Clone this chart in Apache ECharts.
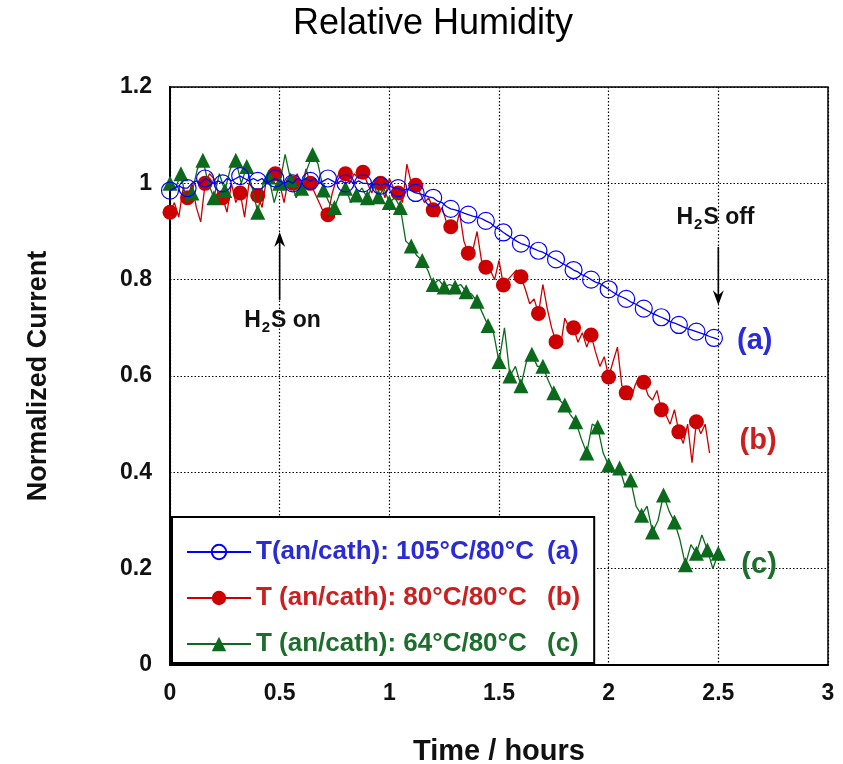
<!DOCTYPE html>
<html><head><meta charset="utf-8">
<script src="https://cdn.jsdelivr.net/npm/echarts@6/dist/echarts.min.js"></script>
<style>html,body{margin:0;padding:0;background:#fff}#c{width:843px;height:764px}</style>
</head><body><div id="c"></div>
<script>
// ---------------- DATA ----------------
const timesAB = [
 0,0.02,0.04,0.06,0.08,0.1,0.12,0.14,0.16,0.18,
 0.2,0.22,0.24,0.26,0.28,0.3,0.32,0.34,0.36,0.38,
 0.4,0.42,0.44,0.46,0.48,0.5,0.52,0.54,0.56,0.58,
 0.6,0.62,0.64,0.66,0.68,0.7,0.72,0.74,0.76,0.78,
 0.8,0.82,0.84,0.86,0.88,0.9,0.92,0.94,0.96,0.98,
 1.0,1.02,1.04,1.06,1.08,1.1,1.12,1.14,1.16,1.18,
 1.2,1.22,1.24,1.26,1.28,1.3,1.32,1.34,1.36,1.38,
 1.4,1.42,1.44,1.46,1.48,1.5,1.52,1.54,1.56,1.58,
 1.6,1.62,1.64,1.66,1.68,1.7,1.72,1.74,1.76,1.78,
 1.8,1.82,1.84,1.86,1.88,1.9,1.92,1.94,1.96,1.98,
 2.0,2.02,2.04,2.06,2.08,2.1,2.12,2.14,2.16,2.18,
 2.2,2.22,2.24,2.26,2.28,2.3,2.32,2.34,2.36,2.38,
 2.4,2.42,2.44,2.46,2.48,2.5
];
// (a) 105/80
const valuesA = [
 0.985,0.99,0.995,0.99,0.99,1.0,1.005,1.0,1.01,1.005,
 1.0,1.005,1.0,1.01,1.005,1.01,1.015,1.01,1.005,1.01,
 1.005,1.01,1.0,1.005,1.01,1.005,1.0,1.005,1.0,1.01,
 1.005,1.01,1.005,1.01,1.0,1.005,1.01,1.005,1.0,1.005,
 1.0,1.005,1.0,1.005,1.0,1.0,0.995,1.0,0.995,1.0,
 0.995,0.99,0.99,0.985,0.988,0.985,0.98,0.978,0.975,0.972,
 0.97,0.963,0.96,0.952,0.947,0.945,0.942,0.938,0.935,0.932,
 0.93,0.927,0.922,0.918,0.91,0.905,0.898,0.892,0.886,0.88,
 0.875,0.872,0.868,0.864,0.86,0.857,0.852,0.846,0.842,0.836,
 0.831,0.826,0.82,0.816,0.81,0.806,0.80,0.795,0.792,0.786,
 0.78,0.774,0.768,0.764,0.76,0.754,0.75,0.745,0.74,0.735,
 0.73,0.726,0.722,0.718,0.713,0.71,0.706,0.702,0.698,0.695,
 0.692,0.689,0.686,0.682,0.679,0.676
];
// (b) 80/80
const valuesB = [
 0.94,0.96,0.93,0.99,0.97,1.0,0.95,0.92,1.0,1.02,
 1.01,0.98,0.97,0.94,1.0,0.96,0.98,0.93,1.0,0.99,
 0.975,0.95,1.01,1.03,1.02,1.0,0.96,1.01,1.0,1.02,
 0.99,1.03,1.0,0.98,0.96,0.94,0.935,0.98,1.01,1.03,
 1.02,1.0,1.02,1.01,1.023,1.0,0.98,1.01,1.0,0.97,
 1.01,0.99,0.98,0.96,1.04,1.0,0.996,0.98,0.96,0.97,
 0.945,0.93,0.95,0.92,0.91,0.90,0.94,0.88,0.855,0.86,
 0.90,0.84,0.826,0.82,0.80,0.84,0.789,0.80,0.81,0.82,
 0.806,0.78,0.75,0.76,0.73,0.79,0.74,0.70,0.671,0.66,
 0.72,0.70,0.70,0.67,0.69,0.66,0.685,0.65,0.62,0.64,
 0.598,0.63,0.66,0.58,0.565,0.55,0.58,0.60,0.587,0.56,
 0.55,0.57,0.53,0.52,0.50,0.53,0.484,0.46,0.50,0.42,
 0.505,0.48,0.50,0.44
];
const timesC = [
 0,0.025,0.05,0.075,0.1,0.125,0.15,0.175,0.2,0.225,
 0.25,0.275,0.3,0.325,0.35,0.375,0.4,0.425,0.45,0.475,
 0.5,0.525,0.55,0.575,0.6,0.625,0.65,0.675,0.7,0.725,
 0.75,0.775,0.8,0.825,0.85,0.875,0.9,0.925,0.95,0.975,
 1.0,1.025,1.05,1.075,1.1,1.125,1.15,1.175,1.2,1.225,
 1.25,1.275,1.3,1.325,1.35,1.375,1.4,1.425,1.45,1.475,
 1.5,1.525,1.55,1.575,1.6,1.625,1.65,1.675,1.7,1.725,
 1.75,1.775,1.8,1.825,1.85,1.875,1.9,1.925,1.95,1.975,
 2.0,2.025,2.05,2.075,2.1,2.125,2.15,2.175,2.2,2.225,
 2.25,2.275,2.3,2.325,2.35,2.375,2.4,2.425,2.45,2.475,
 2.5,2.525
];
// (c) 64/80
const valuesC = [
 1.0,0.99,1.02,0.96,0.98,1.03,1.048,1.0,0.97,1.02,
 0.985,1.03,1.048,1.0,1.035,0.99,0.94,1.0,1.013,0.96,
 1.0,1.06,1.007,0.97,0.99,1.03,1.06,1.04,0.986,0.96,
 0.95,0.98,0.99,0.96,0.976,0.99,0.97,1.0,0.972,0.99,
 0.96,0.97,0.95,0.88,0.87,0.85,0.84,0.82,0.79,0.80,
 0.785,0.79,0.785,0.79,0.775,0.77,0.755,0.73,0.705,0.69,
 0.63,0.70,0.60,0.62,0.58,0.63,0.645,0.62,0.62,0.59,
 0.565,0.55,0.54,0.52,0.505,0.47,0.44,0.50,0.494,0.44,
 0.415,0.40,0.409,0.37,0.384,0.33,0.311,0.33,0.276,0.30,
 0.353,0.32,0.297,0.26,0.208,0.25,0.232,0.27,0.239,0.20,
 0.232,0.22
];
const seriesNames = ['T(an/cath): 105°C/80°C', 'T (an/cath): 80°C/80°C', 'T (an/cath): 64°C/80°C'];
const seriesTags = ['(a)', '(b)', '(c)'];
const xTickValues = [0, 0.5, 1, 1.5, 2, 2.5, 3];
const yTickValues = [0, 0.2, 0.4, 0.6, 0.8, 1, 1.2];
const titleText = 'Relative Humidity';
const xName = 'Time / hours';
const yName = 'Normalized Current';

// annotation anchors in data space
const arrowOn = [[0.5, 0.758], [0.5, 0.899]];
const arrowOff = [[2.5, 0.868], [2.5, 0.747]];
const onLabelAt = [0.513, 0.711];
const offLabelAt = [2.487, 0.926];
const tagAt = [[2.585, 0.673], [2.597, 0.465], [2.605, 0.208]];

// ---------------- STYLE ----------------
const FF = '"Liberation Sans", Arial, Helvetica, sans-serif';
const colA = '#0000ff', colB = '#cc0000', colC = '#0b6a1c';
const txtA = '#2a2ad8', txtB = '#cc2020', txtC = '#1c6e2c';

function buildData(times, values, every, offset) {
  return values.map((v, i) => (i % every === offset)
    ? { value: [times[i], v] }
    : { value: [times[i], v], symbol: 'none' });
}
const tagMap = {};
seriesNames.forEach((n, i) => tagMap[n] = seriesTags[i]);

const chart = echarts.init(document.getElementById('c'));
const axisCommon = {
  type: 'value',
  axisLine: { show: true, lineStyle: { color: '#000', width: 2 } },
  axisTick: { show: false },
  splitLine: { show: true, lineStyle: { color: '#000', width: 1.2, type: [1.5, 2] } },
  axisLabel: { color: '#111', fontFamily: FF, fontWeight: 'bold', fontSize: 23 }
};
const option = {
  backgroundColor: '#fff',
  animation: false,
  title: {
    text: titleText, left: 288, top: 1,
    textStyle: { fontFamily: FF, fontWeight: 'normal', fontSize: 36, color: '#000' }
  },
  grid: { left: 170, top: 87, right: 15, bottom: 99, containLabel: false, outerBoundsMode: 'none',
    show: true, borderColor: '#000', borderWidth: 1.5, backgroundColor: '#fff' },
  xAxis: Object.assign({}, axisCommon, {
    min: 0, max: 3, interval: 0.5, position: 'bottom',
    name: xName, nameLocation: 'middle', nameGap: 72,
    nameTextStyle: { fontFamily: FF, fontWeight: 'bold', fontSize: 29, color: '#111' },
    axisLabel: Object.assign({}, axisCommon.axisLabel, { margin: 17, formatter: v => xTickValues.includes(v) ? String(v) : '' })
  }),
  yAxis: Object.assign({}, axisCommon, {
    min: 0, max: 1.2, interval: 0.2, position: 'left',
    name: yName, nameLocation: 'middle', nameGap: 118, nameRotate: 90,
    nameTextStyle: { fontFamily: FF, fontWeight: 'bold', fontSize: 27, color: '#111' },
    axisLabel: Object.assign({}, axisCommon.axisLabel, { margin: 18, formatter: v => String(Math.round(v * 10) / 10) })
  }),
  legend: {
    orient: 'vertical', left: 172, top: 517,
    padding: [22, 14, 6, 14], itemGap: 20,
    itemWidth: 64, itemHeight: 18,
    backgroundColor: '#fff', borderColor: '#000', borderWidth: 2,
    z: 10,
    data: [
      { name: seriesNames[0], textStyle: { color: txtA } },
      { name: seriesNames[1], textStyle: { color: txtB } },
      { name: seriesNames[2], textStyle: { color: txtC } }
    ],
    formatter: n => `{m|${n}}{t|${tagMap[n]}}`,
    textStyle: {
      fontFamily: FF, fontWeight: 'bold', fontSize: 26,
      rich: {
        m: { width: 291, fontFamily: FF, fontWeight: 'bold', fontSize: 26, lineHeight: 30 },
        t: { fontFamily: FF, fontWeight: 'bold', fontSize: 26, lineHeight: 30 }
      }
    }
  },
  series: [
    {
      name: seriesNames[1], type: 'line', data: buildData(timesAB, valuesB, 4, 0),
      symbol: 'circle', symbolSize: 15, showAllSymbol: true,
      lineStyle: { color: colB, width: 1.3 }, itemStyle: { color: colB }, z: 2
    },
    {
      name: seriesNames[2], type: 'line', data: buildData(timesC, valuesC, 2, 0),
      symbol: 'triangle', symbolSize: 15, showAllSymbol: true,
      lineStyle: { color: colC, width: 1.3 }, itemStyle: { color: colC }, z: 3
    },
    {
      name: seriesNames[0], type: 'line', data: buildData(timesAB, valuesA, 4, 0),
      symbol: 'circle', symbolSize: 17, showAllSymbol: true,
      lineStyle: { color: colA, width: 1.3 },
      itemStyle: { color: 'rgba(255,255,255,0)', borderColor: colA, borderWidth: 1.2 }, z: 4
    }
  ]
};
chart.setOption(option);

// ---------------- ANNOTATIONS ----------------
function px(p) { return chart.convertToPixel({ xAxisIndex: 0, yAxisIndex: 0 }, p); }
function arrow(a) {
  const s = px(a[0]), e = px(a[1]);
  const dir = e[1] < s[1] ? 1 : -1;
  const x = e[0], ty = e[1];
  return [
    { type: 'line', shape: { x1: s[0], y1: s[1], x2: x, y2: ty + dir * 8 }, style: { stroke: '#000', lineWidth: 1.6 }, z: 20 },
    { type: 'polygon', shape: { points: [[x, ty], [x - 5.5, ty + dir * 15], [x, ty + dir * 10], [x + 5.5, ty + dir * 15]] }, style: { fill: '#000' }, z: 20 }
  ];
}
function h2sLabel(at, rest) {
  const p = px(at);
  return {
    type: 'text', x: p[0], y: p[1] - 13, z: 20,
    style: {
      text: `{b|H}{s|2}{b|${rest}}`, align: 'center', verticalAlign: 'top',
      rich: {
        b: { fontFamily: FF, fontWeight: 'bold', fontSize: 23, lineHeight: 26, verticalAlign: 'top', fill: '#111' },
        s: { fontFamily: FF, fontWeight: 'bold', fontSize: 15, lineHeight: 15, verticalAlign: 'bottom', padding: [18, 1, 0, 1], fill: '#111' }
      }
    }
  };
}
const gfx = [];
gfx.push(...arrow(arrowOn), ...arrow(arrowOff));
gfx.push(h2sLabel(onLabelAt, 'S on'), h2sLabel(offLabelAt, 'S off'));
const tagColors = [txtA, txtB, txtC];
tagAt.forEach((a, i) => {
  const p = px(a);
  gfx.push({ type: 'text', x: p[0], y: p[1], z: 20,
    style: { text: seriesTags[i], fill: tagColors[i], fontFamily: FF, fontWeight: 'bold', fontSize: 29, align: 'left', verticalAlign: 'middle' } });
});
chart.setOption({ graphic: gfx });
</script>
</body></html>
